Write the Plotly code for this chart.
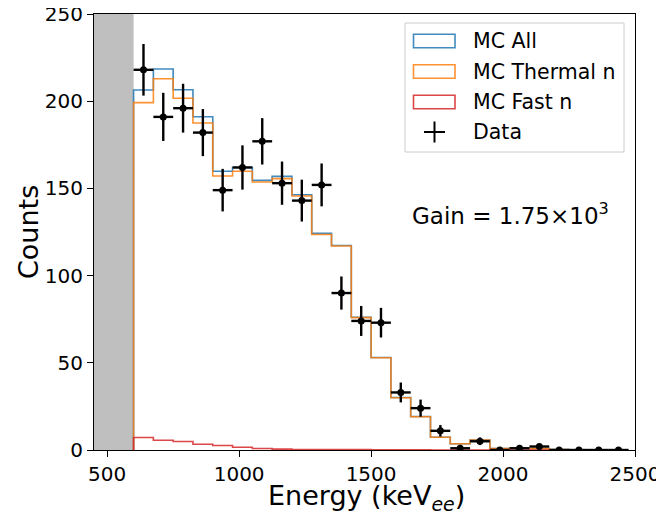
import plotly.graph_objects as go

# ---- data ----
bin_edges = [600, 675, 750, 825, 900, 975, 1050, 1125, 1200, 1275, 1350, 1425, 1500,
             1575, 1650, 1725, 1800, 1875, 1950, 2025, 2100, 2175, 2250, 2325, 2400, 2475]
bin_centers = [637.5, 712.5, 787.5, 862.5, 937.5, 1012.5, 1087.5, 1162.5, 1237.5, 1312.5,
               1387.5, 1462.5, 1537.5, 1612.5, 1687.5, 1762.5, 1837.5, 1912.5, 1987.5,
               2062.5, 2137.5, 2212.5, 2287.5, 2362.5, 2437.5]
mc_all = [206.4, 218.5, 206.6, 191.1, 159.8, 162.0, 154.6, 156.9, 146.4, 124.2, 117.3, 76.1,
          53.0, 30.1, 19.2, 7.3, 3.6, 5.7, 0.8, 1.1, 0.8, 0.2, 0.1, 0.1, 0.0]
mc_thermal = [199.2, 212.9, 201.7, 187.5, 157.1, 159.8, 153.7, 155.6, 145.6, 123.6, 117.0, 75.9,
              52.9, 30.0, 19.1, 7.3, 3.6, 5.7, 0.8, 1.1, 0.8, 0.2, 0.1, 0.1, 0.0]
mc_fast = [7.2, 5.6, 4.9, 3.3, 2.6, 1.6, 0.9, 0.5, 0.3, 0.3, 0.2, 0.2, 0.1, 0.1, 0.1, 0.0,
           0.0, 0.0, 0.0, 0.0, 0.0, 0.0, 0.0, 0.0, 0.0]
data_counts = [218, 191, 196, 182, 149, 162, 177, 153, 143, 152, 90, 74, 73, 33, 24, 11,
               1, 5, 0, 1, 2, 0, 0, 0, 0]
data_err = [14.8, 13.8, 14.0, 13.5, 12.2, 12.7, 13.3, 12.4, 12.0, 12.3, 9.5, 8.6, 8.5, 5.7,
            4.9, 3.3, 1.0, 2.2, 0.0, 1.0, 1.4, 0.0, 0.0, 0.0, 0.0]
half_bin = 37.5
threshold = 600
x_range = [450, 2500]
y_range = [0, 250]
x_ticks = [500, 1000, 1500, 2000, 2500]
y_ticks = [0, 50, 100, 150, 200, 250]
legend_labels = ["MC All", "MC Thermal n", "MC Fast n", "Data"]
gain_text = "Gain = 1.75×10<sup>3</sup>"
x_title = "Energy (keV<sub><i>ee</i></sub>)"
y_title = "Counts"

C_BLUE = "#1f77b4"
C_ORANGE = "#ff7f0e"
C_RED = "#d62728"
FONT = "DejaVu Sans"


def step_xy(values):
    xs = [bin_edges[0]] + bin_edges
    ys = [0] + list(values) + [0]
    return xs, ys


fig = go.Figure()

for vals, col in [(mc_all, C_BLUE), (mc_thermal, C_ORANGE), (mc_fast, C_RED)]:
    xs, ys = step_xy(vals)
    fig.add_trace(go.Scatter(x=xs, y=ys, mode="lines", line=dict(color=col, width=1.6, shape="hv"),
                             opacity=0.85, showlegend=False, hoverinfo="skip"))

fig.add_trace(go.Scatter(
    x=bin_centers, y=data_counts, mode="markers",
    marker=dict(color="black", size=7),
    error_y=dict(type="data", array=data_err, visible=True, color="black", thickness=2.4, width=0),
    error_x=dict(type="constant", value=half_bin, visible=True, color="black", thickness=2.4, width=0),
    showlegend=False,
))

shapes = [dict(type="rect", xref="x", yref="paper", x0=x_range[0], x1=threshold, y0=0, y1=1,
               fillcolor="#bfbfbf", line=dict(width=0), layer="below")]

# page offset (browser body margin) and plot area in window pixels
OFF = 8
W, H, L, T = 541.0, 436.0, 94.0, 14.0
def px(x):
    return (x - L) / W
def py(y):
    return (T + H - y) / H

shapes.append(dict(type="rect", xref="paper", yref="paper", x0=px(405), x1=px(624), y0=py(152), y1=py(23),
                   line=dict(color="#cccccc", width=1), fillcolor="rgba(255,255,255,0.8)"))
annotations = []
row_y = [41, 71.5, 102, 132]
for lab, col, yy in zip(legend_labels[:3], [C_BLUE, C_ORANGE, C_RED], row_y[:3]):
    shapes.append(dict(type="rect", xref="paper", yref="paper", x0=px(413.5), x1=px(455), y0=py(yy + 6.8),
                       y1=py(yy - 6.8), line=dict(color=col, width=1.6), fillcolor="rgba(0,0,0,0)", opacity=0.85))
shapes.append(dict(type="line", xref="paper", yref="paper", x0=px(424), x1=px(445), y0=py(row_y[3]), y1=py(row_y[3]),
                   line=dict(color="black", width=2)))
shapes.append(dict(type="line", xref="paper", yref="paper", x0=px(434.5), x1=px(434.5), y0=py(row_y[3] - 10.5),
                   y1=py(row_y[3] + 10.5), line=dict(color="black", width=2)))
for lab, yy in zip(legend_labels, row_y):
    annotations.append(dict(text=lab, xref="paper", yref="paper", x=px(471), y=py(yy), xanchor="left",
                            yanchor="middle", showarrow=False, font=dict(family=FONT, size=20.5, color="black")))

annotations.append(dict(text=gain_text, xref="paper", yref="paper", x=px(410), y=py(214), xanchor="left",
                        yanchor="middle", showarrow=False, font=dict(family=FONT, size=23, color="black")))

annotations.append(dict(text=x_title, xref="paper", yref="paper", x=px(366), y=py(497), xanchor="center",
                        yanchor="middle", showarrow=False, font=dict(family=FONT, size=27, color="black")))
annotations.append(dict(text=y_title, xref="paper", yref="paper", x=px(28), y=py(232), xanchor="center",
                        yanchor="middle", textangle=-90, showarrow=False,
                        font=dict(family=FONT, size=27, color="black")))

FIG_W, FIG_H = 664, 515
ml = int(L - OFF)
mt = int(T - OFF)
mr = int(FIG_W - ml - W)
mb = int(FIG_H - mt - H)

fig.update_layout(
    width=FIG_W, height=FIG_H,
    margin=dict(l=ml, r=mr, t=mt, b=mb, autoexpand=False),
    paper_bgcolor="white", plot_bgcolor="white",
    font=dict(family=FONT, color="black"),
    shapes=shapes, annotations=annotations,
    showlegend=False,
)
fig.update_xaxes(range=x_range, tickvals=x_ticks, ticks="outside", ticklen=6, tickwidth=1, tickcolor="black",
                 showline=True, linecolor="black", linewidth=1, mirror=True, showgrid=False, zeroline=False,
                 tickfont=dict(size=20, family=FONT), automargin=False, ticklabeloverflow="allow")
fig.update_yaxes(range=y_range, tickvals=y_ticks, ticks="outside", ticklen=6, tickwidth=1, tickcolor="black",
                 showline=True, linecolor="black", linewidth=1, mirror=True, showgrid=False, zeroline=False,
                 tickfont=dict(size=20, family=FONT), automargin=False, ticklabeloverflow="allow")

fig.write_html("out.html")
